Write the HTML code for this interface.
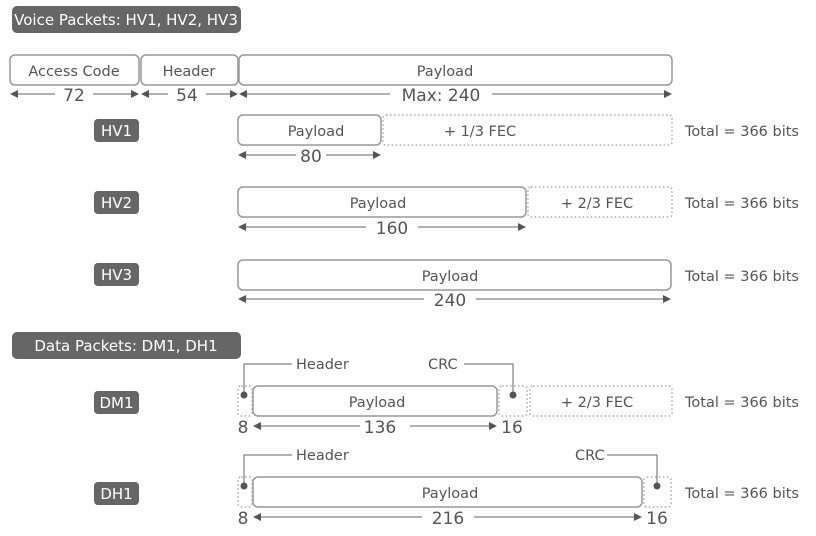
<!DOCTYPE html>
<html><head><meta charset="utf-8"><style>
html,body{margin:0;padding:0;background:#fff;}
svg{display:block;font-family:"DejaVu Sans","Liberation Sans",sans-serif;}
.b{fill:#fff;stroke:#999;stroke-width:1.5;}
.d{fill:#fff;stroke:#aaa;stroke-width:1.5;stroke-dasharray:1.5 2.5;}
.t{fill:#555;font-size:14.5px;text-anchor:middle;}
.n{fill:#555;font-size:17px;text-anchor:middle;}
.tot{fill:#555;font-size:14.5px;}
.l{stroke:#666;stroke-width:1;fill:none;}
.a{fill:#555;}
.lab{fill:#666;}
.lt{fill:#fff;font-size:15px;text-anchor:middle;}
.g{fill:#fff;}
</style></head><body>
<svg width="816" height="536" viewBox="0 0 816 536">
<rect x="12" y="6" width="229" height="27" rx="5" class="lab"/>
<text x="126" y="25" class="lt">Voice Packets: HV1, HV2, HV3</text>
<rect x="12" y="332" width="229" height="27" rx="5" class="lab"/>
<text x="126" y="351" class="lt">Data Packets: DM1, DH1</text>

<rect x="10" y="55" width="129" height="30" rx="5" class="b"/>
<text x="74" y="76" class="t">Access Code</text>
<rect x="141" y="55" width="97" height="30" rx="5" class="b"/>
<text x="189" y="76" class="t">Header</text>
<rect x="239" y="55" width="433" height="30" rx="5" class="b"/>
<text x="445" y="76" class="t">Payload</text>
<line x1="12" y1="94" x2="137" y2="94" class="l"/>
<polygon points="10,94 18,90 18,98" class="a"/><polygon points="139,94 131,90 131,98" class="a"/>
<line x1="143" y1="94" x2="236" y2="94" class="l"/>
<polygon points="141,94 149,90 149,98" class="a"/><polygon points="238,94 230,90 230,98" class="a"/>
<line x1="241" y1="94" x2="670" y2="94" class="l"/>
<polygon points="239,94 247,90 247,98" class="a"/><polygon points="672,94 664,90 664,98" class="a"/>
<rect x="55" y="86" width="38" height="18" class="g"/><text x="74" y="101" class="n">72</text>
<rect x="168" y="86" width="38" height="18" class="g"/><text x="187" y="101" class="n">54</text>
<rect x="390" y="86" width="102" height="18" class="g"/><text x="441" y="101" class="n">Max: 240</text>

<rect x="94" y="119" width="45" height="23" rx="4" class="lab"/><text x="116.5" y="136" class="lt">HV1</text>
<rect x="238" y="115" width="143" height="30" rx="5" class="b"/>
<text x="316" y="136" class="t">Payload</text>
<rect x="383" y="115" width="289" height="30" rx="3" class="d"/>
<text x="480" y="136" class="t">+ 1/3 FEC</text>
<text x="685" y="136" class="tot">Total = 366 bits</text>
<line x1="240" y1="155" x2="379" y2="155" class="l"/>
<polygon points="238,155 246,151 246,159" class="a"/><polygon points="381,155 373,151 373,159" class="a"/>
<rect x="296" y="147" width="30" height="18" class="g"/><text x="311" y="162" class="n">80</text>

<rect x="94" y="191" width="45" height="23" rx="4" class="lab"/><text x="116.5" y="208" class="lt">HV2</text>
<rect x="238" y="187" width="288" height="30" rx="5" class="b"/>
<text x="378" y="208" class="t">Payload</text>
<rect x="528" y="187" width="144" height="30" rx="3" class="d"/>
<text x="597" y="208" class="t">+ 2/3 FEC</text>
<text x="685" y="208" class="tot">Total = 366 bits</text>
<line x1="240" y1="227" x2="524" y2="227" class="l"/>
<polygon points="238,227 246,223 246,231" class="a"/><polygon points="526,227 518,223 518,231" class="a"/>
<rect x="366" y="219" width="52" height="18" class="g"/><text x="392" y="234" class="n">160</text>

<rect x="94" y="263" width="45" height="23" rx="4" class="lab"/><text x="116.5" y="280" class="lt">HV3</text>
<rect x="238" y="260" width="433" height="30" rx="5" class="b"/>
<text x="450" y="281" class="t">Payload</text>
<text x="685" y="281" class="tot">Total = 366 bits</text>
<line x1="240" y1="299" x2="669" y2="299" class="l"/>
<polygon points="238,299 246,295 246,303" class="a"/><polygon points="671,299 663,295 663,303" class="a"/>
<rect x="424" y="291" width="52" height="18" class="g"/><text x="450" y="306" class="n">240</text>

<rect x="94" y="391" width="45" height="23" rx="4" class="lab"/><text x="116.5" y="408" class="lt">DM1</text>
<rect x="238" y="386" width="14" height="30" rx="3" class="d"/>
<rect x="253" y="386" width="244" height="30" rx="5" class="b"/>
<text x="377" y="407" class="t">Payload</text>
<rect x="499" y="386" width="28" height="30" rx="3" class="d"/>
<rect x="530" y="386" width="142" height="30" rx="3" class="d"/>
<text x="597" y="407" class="t">+ 2/3 FEC</text>
<text x="685" y="407" class="tot">Total = 366 bits</text>
<polyline points="244,395 244,364 292,364" class="l"/><circle cx="244" cy="395" r="3.5" class="a"/>
<text x="296" y="369" class="tot">Header</text>
<polyline points="464,364 513,364 513,395" class="l"/><circle cx="513" cy="395" r="3.5" class="a"/>
<text x="428" y="369" class="tot">CRC</text>
<line x1="255" y1="426" x2="495" y2="426" class="l"/>
<polygon points="253,426 261,422 261,430" class="a"/><polygon points="497,426 489,422 489,430" class="a"/>
<rect x="360" y="418" width="50" height="18" class="g"/><text x="380" y="433" class="n">136</text>
<text x="243" y="433" class="n">8</text>
<text x="512" y="433" class="n">16</text>

<rect x="94" y="482" width="45" height="23" rx="4" class="lab"/><text x="116.5" y="499" class="lt">DH1</text>
<rect x="238" y="477" width="14" height="30" rx="3" class="d"/>
<rect x="253" y="477" width="389" height="30" rx="5" class="b"/>
<text x="450" y="498" class="t">Payload</text>
<rect x="644" y="477" width="27" height="30" rx="3" class="d"/>
<text x="685" y="498" class="tot">Total = 366 bits</text>
<polyline points="244,486 244,455 292,455" class="l"/><circle cx="244" cy="486" r="3.5" class="a"/>
<text x="296" y="460" class="tot">Header</text>
<polyline points="607,455 657,455 657,486" class="l"/><circle cx="657" cy="486" r="3.5" class="a"/>
<text x="575" y="460" class="tot">CRC</text>
<line x1="255" y1="517" x2="640" y2="517" class="l"/>
<polygon points="253,517 261,513 261,521" class="a"/><polygon points="642,517 634,513 634,521" class="a"/>
<rect x="422" y="509" width="52" height="18" class="g"/><text x="448" y="524" class="n">216</text>
<text x="243" y="524" class="n">8</text>
<text x="657" y="524" class="n">16</text>
</svg>
</body></html>
